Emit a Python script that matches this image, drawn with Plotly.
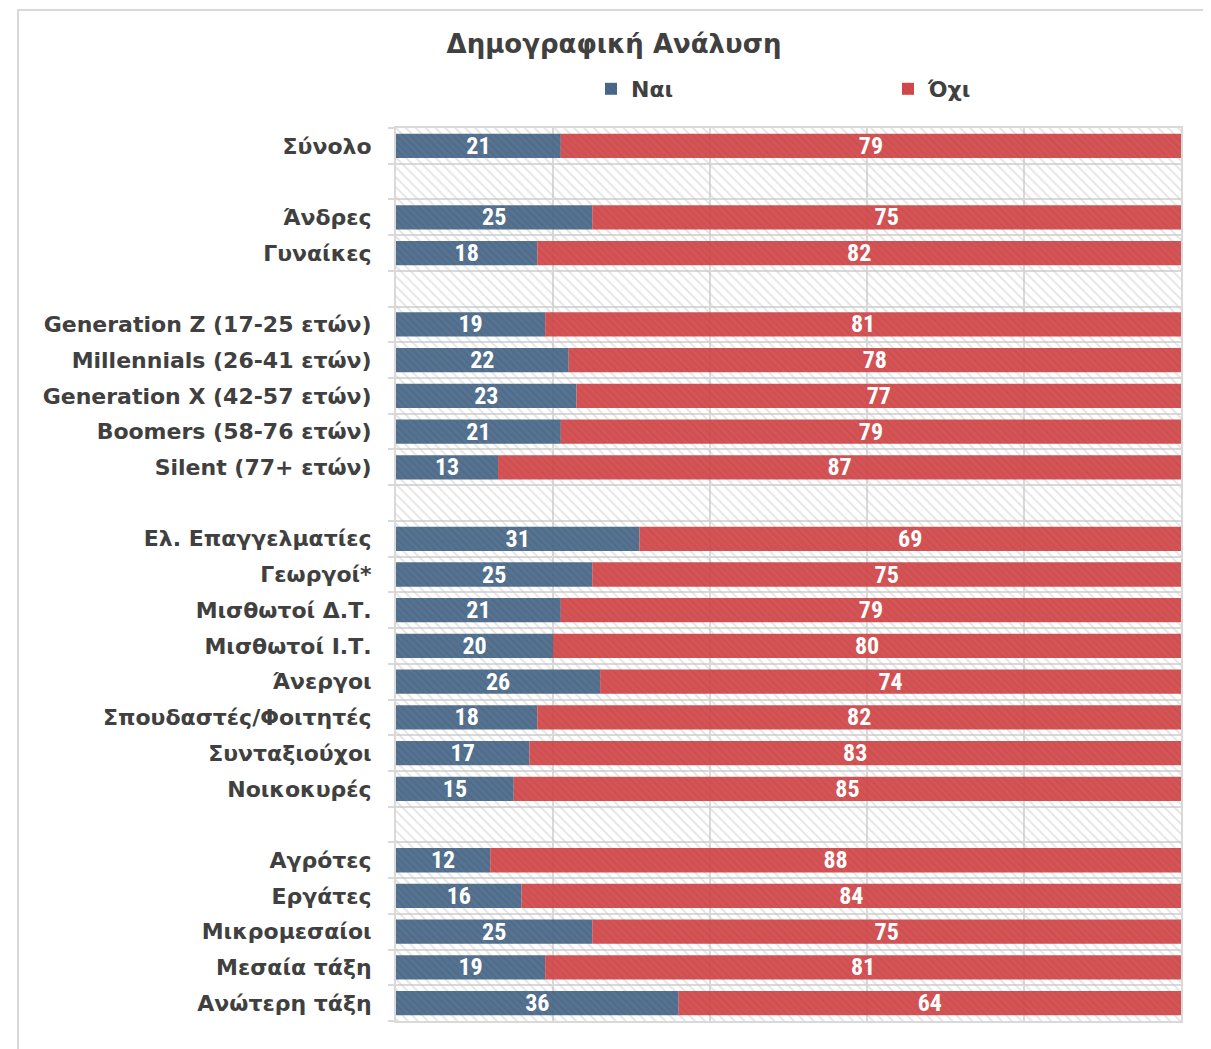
import plotly.graph_objects as go

title = "Δημογραφική Ανάλυση"
categories = [
    "Σύνολο", "",
    "Άνδρες", "Γυναίκες", "",
    "Generation Z (17-25 ετών)", "Millennials (26-41 ετών)", "Generation X (42-57 ετών)",
    "Boomers (58-76 ετών)", "Silent (77+ ετών)", "",
    "Ελ. Επαγγελματίες", "Γεωργοί*", "Μισθωτοί Δ.Τ.", "Μισθωτοί Ι.Τ.", "Άνεργοι",
    "Σπουδαστές/Φοιτητές", "Συνταξιούχοι", "Νοικοκυρές", "",
    "Αγρότες", "Εργάτες", "Μικρομεσαίοι", "Μεσαία τάξη", "Ανώτερη τάξη",
]
nai = [21, None, 25, 18, None, 19, 22, 23, 21, 13, None,
       31, 25, 21, 20, 26, 18, 17, 15, None, 12, 16, 25, 19, 36]
oxi = [79, None, 75, 82, None, 81, 78, 77, 79, 87, None,
       69, 75, 79, 80, 74, 82, 83, 85, None, 88, 84, 75, 81, 64]
series_names = ["Ναι", "Όχι"]

pos = list(range(len(categories)))
n = len(categories)

BLUE = "#4b6a8a"
RED = "#d2494b"
GRID = "#d9d9d9"
TXT = "#404040"
LABEL_FONT = "DejaVu Sans"
NUM_FONT = "Liberation Sans Narrow, Roboto Condensed, Roboto, sans-serif"

fig = go.Figure()

# hatched plot background
fig.add_trace(go.Bar(
    y=pos, x=[100] * n, orientation="h", width=1.0, base=0,
    marker=dict(color="rgba(0,0,0,0)", line=dict(width=0),
                pattern=dict(shape="\\", fgcolor="#c8c8c8", bgcolor="rgba(255,255,255,0)",
                             size=7, solidity=0.25, fillmode="overlay")),
    showlegend=False, hoverinfo="skip",
))

fig.add_trace(go.Bar(
    y=pos, x=nai, orientation="h", width=0.68, base=0, name=series_names[0],
    marker=dict(color=BLUE, opacity=0.94, line=dict(width=0),
                pattern=dict(shape="\\", fgcolor="#3d5a78", size=5, solidity=0.35, fillmode="overlay")),
    text=[("" if v is None else str(v)) for v in nai],
    textposition="inside", insidetextanchor="middle", textangle=0, constraintext="none",
    textfont=dict(family=NUM_FONT, size=24, color="white", weight="bold"),
))
fig.add_trace(go.Bar(
    y=pos, x=oxi, orientation="h", width=0.68, base=[0 if v is None else v for v in nai],
    name=series_names[1],
    marker=dict(color=RED, opacity=0.94, line=dict(width=0),
                pattern=dict(shape="\\", fgcolor="#c13f41", size=5, solidity=0.35, fillmode="overlay")),
    text=[("" if v is None else str(v)) for v in oxi],
    textposition="inside", insidetextanchor="middle", textangle=0, constraintext="none",
    textfont=dict(family=NUM_FONT, size=24, color="white", weight="bold"),
))

# page has an 8px body margin, so figure coords = page coords - 8
OFF = 8
W, H = 1211 - OFF, 1049 - OFF
L = 396 - OFF
T = 128 - OFF
R = W - (1181 - OFF)
B = H - (1021 - OFF)
pw = W - L - R
ph = H - T - B


def px(x):
    return (x - OFF - L) / pw


def py(y):
    return (H - B - (y - OFF)) / ph


fig.update_layout(
    width=W, height=H,
    margin=dict(l=L, r=R, t=T, b=B),
    barmode="overlay",
    paper_bgcolor="white", plot_bgcolor="white",
    title=dict(text=title, x=(614 - OFF) / W, xanchor="center", y=1 - (44 - OFF) / H, yanchor="middle",
               font=dict(family=LABEL_FONT, size=26, color=TXT, weight="bold")),
    legend=dict(orientation="h", x=px(591), xanchor="left", y=py(89), yanchor="middle",
                font=dict(family=LABEL_FONT, size=22, color=TXT, weight="bold"),
                entrywidth=252, entrywidthmode="pixels", itemwidth=30,
                bgcolor="rgba(0,0,0,0)", tracegroupgap=0),
    xaxis=dict(range=[0, 100], showticklabels=False, showgrid=True, gridcolor=GRID, gridwidth=2,
               tickvals=[0, 20, 40, 60, 80, 100], zeroline=False,
               showline=True, linecolor=GRID, linewidth=2, mirror=True, fixedrange=True),
    yaxis=dict(range=[n - 0.5, -0.5], tickvals=pos, ticktext=categories, showgrid=False,
               ticks="", ticklabelstandoff=18, zeroline=False,
               tickfont=dict(family=LABEL_FONT, size=22, color=TXT, weight="bold"),
               showline=True, linecolor=GRID, linewidth=2, mirror=True,
               minor=dict(tickvals=[i - 0.5 for i in range(n + 1)], showgrid=True,
                          gridcolor=GRID, gridwidth=2, ticks="outside", ticklen=6,
                          tickcolor=GRID, tickwidth=2),
               fixedrange=True),
    shapes=[dict(type="rect", xref="paper", yref="paper", x0=px(18), x1=px(1240),
                 y0=py(1080), y1=py(10), line=dict(color=GRID, width=2),
                 fillcolor="rgba(0,0,0,0)", layer="below")],
)

fig.write_html("out.html")
